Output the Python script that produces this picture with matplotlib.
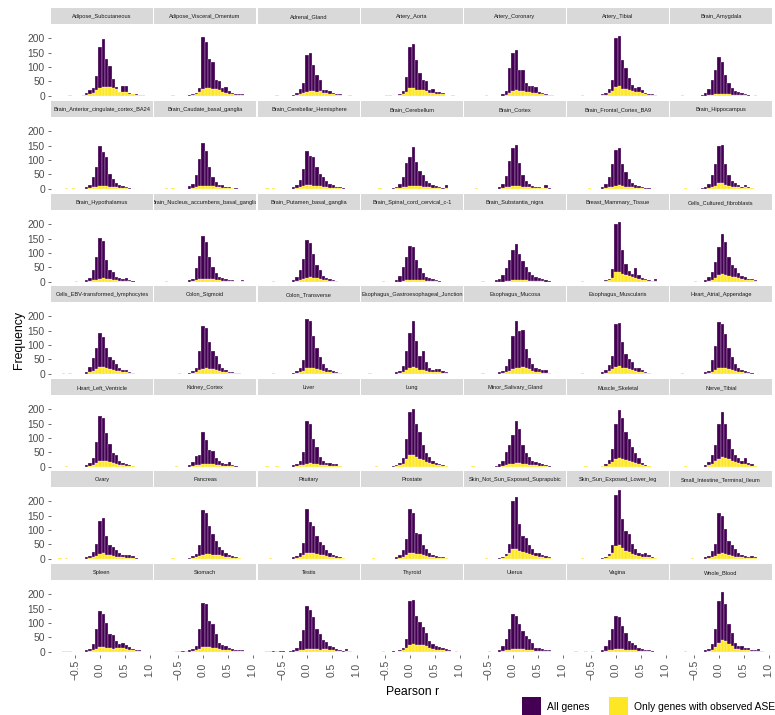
import matplotlib
matplotlib.use("Agg")
import matplotlib.pyplot as plt
import numpy as np
from matplotlib.patches import Rectangle

plt.rcParams["font.family"] = ["Liberation Sans", "DejaVu Sans"]

# ---------------------------------------------------------------------------
# Histogram counts of Pearson r per tissue (bins of width 1/15, centred on
# -13/15 ... 14/15). "all" = all genes, "ase" = genes with observed ASE.
# ---------------------------------------------------------------------------
tissues = [
    "Adipose_Subcutaneous", "Adipose_Visceral_Omentum", "Adrenal_Gland",
    "Artery_Aorta", "Artery_Coronary", "Artery_Tibial", "Brain_Amygdala",
    "Brain_Anterior_cingulate_cortex_BA24", "Brain_Caudate_basal_ganglia",
    "Brain_Cerebellar_Hemisphere", "Brain_Cerebellum", "Brain_Cortex",
    "Brain_Frontal_Cortex_BA9", "Brain_Hippocampus",
    "Brain_Hypothalamus", "Brain_Nucleus_accumbens_basal_ganglia",
    "Brain_Putamen_basal_ganglia", "Brain_Spinal_cord_cervical_c-1",
    "Brain_Substantia_nigra", "Breast_Mammary_Tissue", "Cells_Cultured_fibroblasts",
    "Cells_EBV-transformed_lymphocytes", "Colon_Sigmoid", "Colon_Transverse",
    "Esophagus_Gastroesophageal_Junction", "Esophagus_Mucosa",
    "Esophagus_Muscularis", "Heart_Atrial_Appendage",
    "Heart_Left_Ventricle", "Kidney_Cortex", "Liver", "Lung",
    "Minor_Salivary_Gland", "Muscle_Skeletal", "Nerve_Tibial",
    "Ovary", "Pancreas", "Pituitary", "Prostate",
    "Skin_Not_Sun_Exposed_Suprapubic", "Skin_Sun_Exposed_Lower_leg",
    "Small_Intestine_Terminal_Ileum",
    "Spleen", "Stomach", "Testis", "Thyroid", "Uterus", "Vagina", "Whole_Blood",
]

all_genes = [
    [0,0,0,0,1,0,0, 0,3,8,20,26,67,171, 198,128,102,58,30,14,34, 33,9,6,5,3,3,0],
    [0,0,0,0,1,0,0, 0,0,3,5,10,27,203, 186,127,119,55,50,27,30, 15,8,5,4,4,0,0],
    [0,0,0,0,1,0,0, 0,0,3,8,22,45,142, 148,107,72,55,21,21,15, 10,6,4,0,0,1,0],
    [0,0,0,0,0,0,1, 1,0,0,5,15,65,171, 180,125,79,55,50,21,23, 12,12,10,0,0,1,0],
    [0,0,0,0,0,1,0, 0,0,0,4,15,95,150, 160,90,88,44,35,32,30, 12,8,5,3,2,0,0],
    [0,0,0,1,0,0,0, 0,0,4,8,22,55,200, 208,125,96,61,38,27,29, 21,9,6,4,3,0,0],
    [0,0,1,0,0,0,0, 0,3,8,23,55,90,134, 119,72,44,27,15,12,8, 5,3,0,2,0,0,0],
    [0,0,0,1,0,1,0, 0,0,6,14,40,74,149, 126,109,51,34,21,11,9, 6,3,0,0,0,0,0],
    [0,0,1,0,1,0,0, 0,0,9,17,46,103,158, 131,74,40,23,14,11,6, 4,3,2,0,0,0,0],
    [0,1,0,1,0,0,0, 0,0,5,14,29,69,131, 114,112,74,51,40,25,17, 11,6,4,2,0,0,0],
    [0,0,0,0,1,0,0, 0,3,6,15,40,88,110, 145,92,63,46,25,18,14, 9,6,3,12,0,0,0],
    [0,0,1,0,0,0,0, 0,0,5,15,45,95,143, 151,91,46,25,17,9,6, 4,3,11,2,0,0,0],
    [0,0,0,0,0,1,0, 0,0,4,15,40,86,135, 143,86,57,34,21,11,9, 6,3,2,0,0,0,0],
    [0,0,0,1,0,0,0, 0,2,5,16,46,86,149, 151,86,48,25,21,14,6, 14,6,3,0,0,0,0],
    [0,0,0,0,0,0,1, 0,0,5,12,40,85,151, 143,74,40,34,17,11,8, 14,4,2,0,0,0,0],
    [0,0,1,0,0,0,0, 0,0,4,10,46,91,158, 137,86,51,29,17,14,9, 6,4,0,0,5,0,0],
    [0,0,0,1,0,0,0, 0,0,6,17,40,80,146, 135,97,57,40,21,14,9, 6,3,0,0,0,0,0],
    [0,0,0,0,0,1,0, 0,0,6,20,51,86,123, 120,74,46,29,17,14,9, 6,3,0,0,0,0,0],
    [0,0,0,0,1,0,0, 0,4,10,23,46,74,109, 131,97,71,51,34,23,17, 11,9,6,3,0,0,0],
    [0,0,0,1,0,0,0, 0,0,0,4,10,45,200, 208,112,63,38,28,48,22, 12,8,5,3,10,0,0],
    [0,0,0,0,0,0,1, 0,0,5,17,34,69,120, 166,137,86,57,46,29,21, 17,9,9,4,0,0,0],
    [0,0,1,0,1,0,0, 0,0,6,23,55,90,143, 126,91,59,48,34,21,14, 11,6,3,0,0,0,0],
    [0,0,0,0,0,0,1, 0,0,3,8,21,80,166, 160,109,78,63,34,21,14, 6,4,3,2,0,0,0],
    [0,0,0,1,0,0,0, 0,0,3,8,20,46,189, 183,131,91,57,34,21,14, 9,6,3,0,0,0,0],
    [0,1,0,0,0,0,0, 0,0,4,10,25,80,143, 185,114,63,80,40,21,12, 17,17,8,4,0,0,0],
    [0,0,0,0,1,0,0, 0,0,4,10,25,51,131, 183,149,151,86,55,34,21, 17,11,11,3,0,0,0],
    [0,0,0,1,0,0,0, 0,0,4,14,29,63,173, 178,109,69,51,40,21,21, 11,6,3,0,0,0,0],
    [0,0,1,0,0,0,0, 0,0,4,10,46,97,181, 174,137,91,57,34,21,14, 9,4,2,0,0,0,0],
    [0,0,0,1,0,0,0, 0,0,5,14,29,86,177, 171,117,80,46,40,21,11, 9,4,2,0,0,0,0],
    [0,0,0,0,0,1,0, 0,0,5,15,38,42,120, 92,57,55,29,21,14,9, 17,6,3,0,0,0,0],
    [0,1,0,0,1,0,0, 0,0,4,9,21,51,158, 149,97,69,34,21,14,11, 9,9,3,0,0,0,0],
    [0,0,0,1,0,0,0, 0,2,5,12,30,97,192, 200,149,120,74,46,34,21, 14,9,5,3,0,0,0],
    [0,1,0,0,0,0,0, 0,3,8,20,51,74,109, 160,131,74,48,34,21,17, 11,9,6,3,0,0,0],
    [0,0,0,0,1,0,0, 0,0,3,8,22,60,150, 197,170,120,97,69,46,29, 14,6,3,0,0,0,0],
    [0,0,0,1,0,0,0, 0,0,5,15,40,74,149, 192,149,97,63,40,29,21, 29,14,9,3,0,0,0],
    [0,1,0,1,0,0,0, 0,0,4,9,22,52,132, 142,80,46,40,29,21,14, 11,14,8,3,0,0,0],
    [0,0,0,0,1,0,0, 0,0,3,8,17,46,171, 160,114,86,63,40,29,21, 14,9,5,3,0,0,0],
    [0,0,1,0,0,0,0, 0,0,4,9,21,55,174, 126,114,80,59,46,29,21, 14,9,6,3,0,0,0],
    [0,0,1,0,0,0,0, 0,0,4,12,29,69,174, 160,90,86,46,34,21,14, 9,6,4,3,0,0,0],
    [0,0,0,0,0,1,0, 0,0,3,6,15,50,200, 215,120,80,71,46,34,21, 21,14,9,4,0,0,0],
    [0,0,0,1,0,0,0, 0,0,3,6,17,46,222, 238,137,97,86,51,34,21, 17,21,11,6,3,0,0],
    [0,0,0,0,0,1,0, 0,0,4,10,25,51,160, 149,103,63,46,34,21,14, 9,4,8,6,0,0,0],
    [0,0,1,1,1,0,0, 0,0,5,8,26,78,142, 130,99,63,58,37,28,31, 23,16,8,4,5,0,0],
    [0,0,0,0,0,1,1, 2,3,5,8,20,78,171, 167,107,95,60,31,23,20, 12,8,5,5,4,0,0],
    [0,1,1,1,1,1,2, 0,2,5,12,37,74,159, 144,119,78,60,40,35,20, 16,8,5,3,8,2,0],
    [0,0,0,0,0,1,0, 0,2,0,5,12,43,177, 180,125,102,85,65,37,28, 20,16,12,8,5,0,1],
    [0,0,0,0,0,0,1, 0,0,5,20,43,78,130, 124,95,72,55,43,31,12, 12,8,6,5,0,0,0],
    [0,1,0,0,1,0,1, 0,0,5,20,40,78,124, 122,90,66,37,31,23,12, 8,5,4,3,0,0,0],
    [0,0,0,1,0,0,0, 0,0,4,8,26,78,177, 209,167,95,66,31,20,20, 12,12,6,4,8,2,0],
]

ase_genes = [
    [0,0,0,0,1,0,0, 0,1,3,6,10,18,26, 31,31,30,28,22,12,14, 12,6,4,3,2,1,0],
    [0,0,0,0,1,0,0, 0,0,0,2,5,12,24, 26,25,24,22,18,12,10, 7,4,3,2,2,0,0],
    [0,0,0,0,1,0,0, 0,0,0,2,4,8,13, 15,15,13,17,10,9,7, 5,3,2,0,0,1,0],
    [0,0,0,0,0,0,1, 1,0,0,2,6,12,25, 26,20,19,18,16,10,9, 6,5,4,0,0,1,0],
    [0,0,0,0,0,1,0, 0,0,0,0,3,8,15, 18,16,15,14,12,10,8, 5,4,3,2,1,0,0],
    [0,0,0,1,0,0,0, 0,0,1,3,8,16,30, 32,24,22,20,16,12,13, 10,5,3,2,1,0,0],
    [0,0,1,0,0,0,0, 0,0,0,2,3,5,6, 6,5,4,3,3,2,2, 1,0,0,1,0,0,0],
    [0,0,0,1,0,1,0, 0,0,0,2,4,7,10, 10,9,7,5,4,3,2, 1,0,0,0,0,0,0],
    [0,0,1,0,1,0,0, 0,0,0,3,5,8,10, 10,9,8,6,5,3,2, 2,1,0,0,0,0,0],
    [0,1,0,1,0,0,0, 0,0,0,2,4,8,12, 12,10,9,8,6,4,3, 2,1,1,0,0,0,0],
    [0,0,0,0,1,0,0, 0,0,1,2,4,7,9, 10,9,8,6,5,4,3, 2,2,0,3,0,0,0],
    [0,0,1,0,0,0,0, 0,0,0,2,4,7,10, 10,8,6,5,4,3,2, 1,1,3,0,0,0,0],
    [0,0,0,0,0,1,0, 0,0,0,2,4,7,10, 11,9,7,5,4,3,2, 1,0,0,0,0,0,0],
    [0,0,0,1,0,0,0, 0,0,0,3,6,10,18, 20,14,10,7,6,4,3, 4,2,1,0,0,0,0],
    [0,0,0,0,0,0,1, 0,0,0,2,4,7,10, 11,10,8,6,4,3,2, 3,1,0,0,0,0,0],
    [0,0,1,0,0,0,0, 0,0,0,2,5,8,10, 10,9,8,6,4,3,2, 2,1,0,0,1,0,0],
    [0,0,0,1,0,0,0, 0,0,0,3,6,10,14, 15,13,11,9,6,4,3, 2,1,0,0,0,0,0],
    [0,0,0,0,0,1,0, 0,0,0,0,2,4,6, 7,6,5,4,3,2,2, 1,0,0,0,0,0,0],
    [0,0,0,0,1,0,0, 0,0,0,0,2,3,5, 6,6,5,4,3,2,2, 1,1,0,0,0,0,0],
    [0,0,0,1,0,0,0, 0,0,0,2,5,14,32, 35,28,24,20,15,14,9, 6,4,3,2,3,0,0],
    [0,0,0,0,0,0,1, 0,0,0,3,7,14,22, 25,24,20,17,15,12,9, 7,5,4,2,0,0,0],
    [0,0,1,0,1,0,0, 0,0,0,5,10,16,24, 22,18,15,13,10,8,6, 4,3,2,0,0,0,0],
    [0,0,0,0,0,0,1, 0,0,0,2,6,12,17, 18,17,15,13,9,7,5, 3,2,1,1,0,0,0],
    [0,0,0,1,0,0,0, 0,0,0,2,5,10,18, 20,19,17,14,10,7,5, 3,2,1,0,0,0,0],
    [0,1,0,0,0,0,0, 0,0,0,2,5,12,18, 22,18,14,13,9,6,4, 5,4,2,1,0,0,0],
    [0,0,0,0,1,0,0, 0,0,0,2,6,10,15, 19,21,22,20,15,10,7, 5,3,3,1,0,0,0],
    [0,0,0,1,0,0,0, 0,0,0,3,8,15,22, 25,21,18,15,12,8,7, 4,3,1,0,0,0,0],
    [0,0,1,0,0,0,0, 0,0,0,3,7,13,19, 20,18,15,11,8,6,4, 3,2,0,0,0,0,0],
    [0,0,0,1,0,0,0, 0,0,0,3,6,12,18, 20,18,15,11,8,5,4, 3,2,1,0,0,0,0],
    [0,0,0,0,0,1,0, 0,0,0,2,5,7,10, 10,9,8,6,5,3,2, 3,1,0,0,0,0,0],
    [0,1,0,0,1,0,0, 0,0,0,2,4,7,10, 11,10,9,7,5,4,3, 2,2,1,0,0,0,0],
    [0,0,0,1,0,0,0, 0,0,1,4,10,25,40, 42,35,28,22,16,12,9, 6,4,3,1,0,0,0],
    [0,1,0,0,0,0,0, 0,0,0,2,5,8,10, 12,11,9,8,7,5,4, 3,2,1,0,0,0,0],
    [0,0,0,0,1,0,0, 0,0,1,3,8,16,28, 30,26,22,19,15,11,8, 5,3,1,0,0,0,0],
    [0,0,0,1,0,0,0, 0,0,0,4,9,18,28, 32,30,25,20,15,12,9, 10,5,3,1,0,0,0],
    [0,1,0,1,0,0,0, 0,0,0,2,5,10,15, 18,14,11,9,7,5,4, 3,3,2,0,0,0,0],
    [0,0,0,0,1,0,0, 0,0,0,2,5,9,14, 15,15,14,13,11,9,7, 5,3,2,1,0,0,0],
    [0,0,1,0,0,0,0, 0,0,0,3,7,14,20, 20,18,16,14,11,8,6, 4,3,2,1,0,0,0],
    [0,0,1,0,0,0,0, 0,0,0,3,7,13,18, 19,17,15,12,9,7,5, 3,2,1,1,0,0,0],
    [0,0,0,0,0,1,0, 0,0,0,3,8,18,33, 35,26,22,20,15,12,8, 7,5,3,1,0,0,0],
    [0,0,0,1,0,0,0, 0,0,0,3,8,20,45, 48,36,28,24,17,13,9, 7,7,4,2,1,0,0],
    [0,0,0,0,0,1,0, 0,0,0,2,5,10,16, 18,15,12,9,7,5,4, 3,2,2,1,0,0,0],
    [0,0,1,1,1,0,0, 0,0,0,2,5,10,16, 16,14,11,10,12,14,12, 9,6,4,2,3,0,0],
    [0,0,0,0,0,1,1, 0,1,0,2,5,10,15, 16,15,14,12,9,7,5, 4,3,2,2,1,0,0],
    [0,1,1,0,1,0,0, 0,0,0,2,4,7,10, 10,10,8,7,9,10,6, 4,3,2,0,3,1,0],
    [0,0,0,0,0,1,0, 0,0,0,2,5,12,24, 25,22,22,22,20,12,9, 7,6,5,3,2,0,1],
    [0,0,0,0,0,0,1, 0,0,0,2,4,7,9, 10,9,8,7,5,4,3, 3,2,1,1,0,0,0],
    [0,1,0,0,1,0,1, 0,0,0,2,4,7,9, 10,9,7,6,5,4,3, 2,1,1,0,0,0,0],
    [0,0,0,1,0,0,0, 0,0,0,2,6,15,30, 42,36,25,18,10,8,7, 5,5,3,2,3,1,0],
]

x_ticks = [-0.5, 0.0, 0.5, 1.0]
x_tick_labels = ["\u22120.5", "0.0", "0.5", "1.0"]
y_ticks = [0, 50, 100, 150, 200]
series_labels = ["All genes", "Only genes with observed ASE"]

PURPLE = "#440154"
YELLOW = "#FDE725"
EDGE = (1, 1, 1, 0.55)

bin_centers = np.arange(-13, 15) / 15.0
bin_width = 1.0 / 15.0

W, H = 775, 715
fig = plt.figure(figsize=(W / 100, H / 100), dpi=100)
fig.patch.set_facecolor("white")


def px_axes(x, y, w, h):
    return fig.add_axes([x / W, 1 - (y + h) / H, w / W, h / H])


ymax = max(max(a) for a in all_genes)
ylim = (-0.05 * ymax, 1.05 * ymax)
n_cols = 7

PANEL_W = 102
COL_STEP = 103.1
ROW_STEP = 92.6
STRIP_H = 16
PANEL_H = 75

for i, name in enumerate(tissues):
    r, c = divmod(i, n_cols)
    left = round(51.3 + COL_STEP * c)
    strip_top = round(8.3 + ROW_STEP * r)

    # facet strip
    sax = px_axes(left, strip_top, PANEL_W, STRIP_H)
    sax.set_facecolor("#D9D9D9")
    sax.set_xticks([])
    sax.set_yticks([])
    for s in sax.spines.values():
        s.set_visible(False)
    sax.text(0.5, 0.37, name, ha="center", va="baseline", fontsize=4.1,
             color="#1A1A1A", transform=sax.transAxes, clip_on=True)

    # histogram panel
    ax = px_axes(left, strip_top + STRIP_H, PANEL_W, PANEL_H)
    counts_all = np.array(all_genes[i])
    counts_ase = np.array(ase_genes[i])
    m = counts_all > 0
    ax.bar(bin_centers[m], counts_all[m], width=bin_width, color=PURPLE,
           edgecolor=EDGE, linewidth=0.35)
    m = counts_ase > 0
    ax.bar(bin_centers[m], counts_ase[m], width=bin_width, color=YELLOW,
           edgecolor=EDGE, linewidth=0.35)

    ax.set_xlim(-0.984, 1.067)
    ax.set_ylim(*ylim)
    for s in ax.spines.values():
        s.set_visible(False)
    ax.set_xticks(x_ticks)
    ax.set_yticks(y_ticks)
    ax.set_xticklabels(x_tick_labels)
    ax.set_yticklabels([str(v) for v in y_ticks])
    ax.tick_params(axis="both", length=2.0, width=0.5, color="#333333",
                   labelsize=7.4, labelcolor="#4D4D4D")
    ax.tick_params(axis="y", pad=2.4)
    ax.tick_params(axis="x", pad=8.6)
    for lab in ax.get_xticklabels():
        lab.set_rotation(90)
        lab.set_va("center")
        lab.set_ha("center")
    if c != 0:
        ax.tick_params(axis="y", left=False, labelleft=False)
    if i < len(tissues) - n_cols:
        ax.tick_params(axis="x", bottom=False, labelbottom=False)

# axis titles
fig.text(413 / W, 1 - 692 / H, "Pearson r", ha="center", va="center",
         fontsize=8.8, color="black")
fig.text(19.5 / W, 1 - 340 / H, "Frequency", ha="center", va="center",
         rotation=90, fontsize=8.8, color="black")

# legend
key_size = 19
for x0, col, lab, tx in [(522, PURPLE, series_labels[0], 547),
                         (608.5, YELLOW, series_labels[1], 633.5)]:
    fig.patches.append(Rectangle((x0 / W, 1 - (697 + key_size) / H),
                                 key_size / W, key_size / H,
                                 transform=fig.transFigure, facecolor=col,
                                 edgecolor="none"))
    fig.text(tx / W, 1 - 706.5 / H, lab, ha="left", va="center",
             fontsize=7.4, color="black")

fig.savefig("out.png", dpi=100)
